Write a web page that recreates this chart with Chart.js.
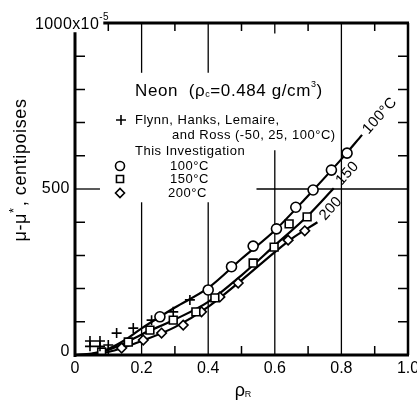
<!DOCTYPE html>
<html>
<head>
<meta charset="utf-8">
<script src="https://cdn.jsdelivr.net/npm/chart.js@4.4.0/dist/chart.umd.min.js"></script>
<style>
  body { margin: 0; background: #fff; }
</style>
</head>
<body>
<canvas id="neonChart" width="417" height="402"></canvas>
<script>
// Flynn, Hanks, Lemaire and Ross (+)
const flynnRho = [0.045, 0.075, 0.045, 0.075, 0.1, 0.125, 0.175, 0.23, 0.295, 0.345]
const flynnVisc = [42, 42, 26, 26, 30, 66, 81, 105, 130, 166]

// This investigation
const rho100 = [0.255, 0.40, 0.47, 0.535, 0.605, 0.663, 0.715, 0.77, 0.817]
const visc100 = [115, 196, 266, 328, 380, 445, 497, 557, 608]
const rho150 = [0.08, 0.16, 0.225, 0.295, 0.363, 0.42, 0.535, 0.598, 0.643, 0.697]
const visc150 = [9, 39, 75, 105, 130, 172, 277, 325, 395, 416]
const rho200 = [0.14, 0.205, 0.26, 0.325, 0.38, 0.435, 0.49, 0.64, 0.69]
const visc200 = [21, 45, 66, 90, 130, 175, 217, 346, 374]

// smooth curves drawn through the points
const curveRho100 = [0, 0.05, 0.1, 0.15, 0.2, 0.25, 0.3, 0.4, 0.5, 0.6, 0.7, 0.8, 0.862]
const curveVisc100 = [0, 4, 18, 45, 80, 112, 143, 202, 290, 375, 480, 590, 663]
const curveRho150 = [0, 0.05, 0.1, 0.15, 0.2, 0.3, 0.4, 0.5, 0.6, 0.7, 0.777]
const curveVisc150 = [0, 3, 15, 36, 62, 107, 160, 240, 330, 420, 502]
const curveRho200 = [0.05, 0.1, 0.15, 0.2, 0.3, 0.4, 0.5, 0.6, 0.65, 0.728]
const curveVisc200 = [2, 9, 24, 42, 84, 145, 225, 310, 350, 400]

const xTicks = [0, 0.2, 0.4, 0.6, 0.8, 1.0]
const yTickLabels = [0, 500]

const FONT = "'Liberation Sans', Arial, sans-serif"
const INK = "#000"

const toXY = (xs, ys) => xs.map((x, i) => ({ x: x, y: ys[i] }))

function drawRich(ctx, parts, x, y, align, spacing) {
  ctx.letterSpacing = (spacing || 0) + "px"
  let total = 0
  parts.forEach(p => {
    ctx.font = p.size + "px " + FONT
    p.w = ctx.measureText(p.t).width + (p.gap || 0)
    total += p.w
  })
  let cx = align === "center" ? x - total / 2 : align === "right" ? x - total : x
  parts.forEach(p => {
    ctx.font = p.size + "px " + FONT
    ctx.textAlign = "left"
    ctx.textBaseline = "middle"
    ctx.fillText(p.t, cx, y + (p.dy || 0))
    cx += p.w
  })
  ctx.letterSpacing = "0px"
}

const framePlugin = {
  id: "frame",
  beforeDatasetsDraw(chart) {
    const ctx = chart.ctx
    const xs = chart.scales.x
    const ys = chart.scales.y
    // broken grid lines (gaps left for the key)
    const segments = [
      [0.2, 1000, 0.2, 850], [0.2, 460, 0.2, 0],
      [0.4, 1000, 0.4, 850], [0.4, 460, 0.4, 0],
      [0.6, 1000, 0.6, 968], [0.6, 617, 0.6, 0],
      [0.8, 1000, 0.8, 0],
      [0, 500, 0.075, 500], [0.545, 500, 1, 500]
    ]
    ctx.save()
    ctx.strokeStyle = INK
    ctx.lineWidth = 1.3
    segments.forEach(s => {
      ctx.beginPath()
      ctx.moveTo(xs.getPixelForValue(s[0]), ys.getPixelForValue(s[1]))
      ctx.lineTo(xs.getPixelForValue(s[2]), ys.getPixelForValue(s[3]))
      ctx.stroke()
    })
    ctx.restore()
  },
  afterDatasetsDraw(chart) {
    const ctx = chart.ctx
    const xs = chart.scales.x
    const ys = chart.scales.y
    const X = v => xs.getPixelForValue(v)
    const Y = v => ys.getPixelForValue(v)
    ctx.save()
    ctx.strokeStyle = INK
    ctx.fillStyle = INK
    ctx.lineCap = "butt"

    // frame
    ctx.lineWidth = 3
    ctx.beginPath()
    ctx.moveTo(X(0), Y(972))
    ctx.lineTo(X(0), Y(0) + 2)
    ctx.moveTo(X(0) - 1, Y(0))
    ctx.lineTo(X(1) + 1, Y(0))
    ctx.moveTo(X(0.085), Y(1000))
    ctx.lineTo(X(1) + 1, Y(1000))
    ctx.stroke()
    ctx.lineWidth = 2.5
    ctx.beginPath()
    ctx.moveTo(X(1), Y(1000))
    ctx.lineTo(X(1), Y(0))
    ctx.stroke()

    // inside ticks
    ctx.lineWidth = 1.5
    ctx.beginPath()
    for (let v = 100; v < 1000; v += 100) {
      if (v === 500) continue
      ctx.moveTo(X(0), Y(v))
      ctx.lineTo(X(0) + 10, Y(v))
      ctx.moveTo(X(1), Y(v))
      ctx.lineTo(X(1) - 10, Y(v))
    }
    for (let t = 1; t < 10; t += 2) {
      ctx.moveTo(X(t / 10), Y(1000))
      ctx.lineTo(X(t / 10), Y(1000) + 8)
      ctx.moveTo(X(t / 10), Y(0))
      ctx.lineTo(X(t / 10), Y(0) - 9)
    }
    ctx.stroke()

    // y tick labels
    yTickLabels.forEach(v => {
      drawRich(ctx, [{ t: String(v), size: 16 }], X(0) - 5, Y(v) - (v === 0 ? 3 : 0), "right", 0.5)
    })
    drawRich(ctx, [{ t: "1000x10", size: 16 }, { t: "-5", size: 10, dy: -8 }], 35, Y(1000) + 2, "left", 0.4)

    // axis titles
    ctx.save()
    ctx.translate(21, 170)
    ctx.rotate(-Math.PI / 2)
    drawRich(ctx, [
      { t: "\u03bc-\u03bc", size: 18 },
      { t: "*", size: 13, dy: -7, gap: 1 },
      { t: ", centipoises", size: 18 }
    ], 0, 0, "center", 0.6)
    ctx.restore()
    drawRich(ctx, [{ t: "\u03c1", size: 18 }, { t: "R", size: 9, dy: 4 }], 243, 391, "center")

    // key
    drawRich(ctx, [
      { t: "Neon  (\u03c1", size: 17 },
      { t: "c", size: 9, dy: 4 },
      { t: "=0.484 g/cm", size: 17 },
      { t: "3", size: 9, dy: -6 },
      { t: ")", size: 17 }
    ], 135, 91, "left", 0.6)
    const keyFont = 13
    const sp = 0.5
    drawRich(ctx, [{ t: "Flynn, Hanks, Lemaire,", size: keyFont }], 135, 120, "left", sp)
    drawRich(ctx, [{ t: "and Ross (-50, 25, 100\u00b0C)", size: keyFont }], 172, 135, "left", sp)
    drawRich(ctx, [{ t: "This Investigation", size: keyFont }], 135, 151, "left", sp)
    drawRich(ctx, [{ t: "100\u00b0C", size: keyFont }], 170, 166, "left", sp)
    drawRich(ctx, [{ t: "150\u00b0C", size: keyFont }], 170, 179, "left", sp)
    drawRich(ctx, [{ t: "200\u00b0C", size: keyFont }], 168, 193, "left", sp)

    ctx.fillStyle = "#fff"
    ctx.lineWidth = 1.6
    const sym = (style, r, x, y) => Chart.helpers.drawPoint(ctx, { pointStyle: style, radius: r, rotation: 0, borderWidth: 1.6 }, x, y)
    sym("cross", 5, 121, 120)
    sym("circle", 4.5, 120, 166)
    sym("rect", 5, 120, 179)
    sym("rectRot", 4.5, 120, 193)

    // curve labels
    ctx.fillStyle = INK
    const curveLabel = (txt, x, y) => {
      ctx.save()
      ctx.translate(x, y)
      ctx.rotate(-48 * Math.PI / 180)
      drawRich(ctx, [{ t: txt, size: 15 }], 0, 0, "left", 0.3)
      ctx.restore()
    }
    curveLabel("100\u00b0C", X(0.872), Y(672))
    curveLabel("150", X(0.792), Y(518))
    curveLabel("200", X(0.742), Y(412))

    ctx.restore()
  }
}

const markerStyle = {
  showLine: false,
  backgroundColor: "#fff",
  borderColor: INK,
  borderWidth: 1.6,
  pointBackgroundColor: "#fff",
  pointBorderColor: INK,
  pointBorderWidth: 1.6
}
const curveStyle = {
  showLine: true,
  borderColor: INK,
  borderWidth: 2.2,
  pointRadius: 0,
  cubicInterpolationMode: "monotone",
  fill: false
}

const data = {
  datasets: [
    Object.assign({ label: "Flynn", data: toXY(flynnRho, flynnVisc), pointStyle: "cross", pointRadius: 5 }, markerStyle),
    Object.assign({ label: "100 C", data: toXY(rho100, visc100), pointStyle: "circle", pointRadius: 5 }, markerStyle),
    Object.assign({ label: "150 C", data: toXY(rho150, visc150), pointStyle: "rect", pointRadius: 5.5 }, markerStyle),
    Object.assign({ label: "200 C", data: toXY(rho200, visc200), pointStyle: "rectRot", pointRadius: 4.8 }, markerStyle),
    Object.assign({ label: "curve 100", data: toXY(curveRho100, curveVisc100) }, curveStyle),
    Object.assign({ label: "curve 150", data: toXY(curveRho150, curveVisc150) }, curveStyle),
    Object.assign({ label: "curve 200", data: toXY(curveRho200, curveVisc200) }, curveStyle)
  ]
}

const config = {
  type: "scatter",
  data: data,
  options: {
    responsive: false,
    animation: false,
    layout: {
      padding: { left: 0, right: 9, top: 23, bottom: 0 }
    },
    scales: {
      x: {
        type: "linear",
        min: 0,
        max: 1,
        grid: { display: false, drawTicks: false },
        border: { display: false },
        afterBuildTicks: scale => {
          scale.ticks = xTicks.map(v => ({ value: v }))
        },
        ticks: {
          autoSkip: false,
          maxRotation: 0,
          color: INK,
          padding: 4,
          font: { size: 16, family: FONT },
          callback: v => (v === 0 ? "0" : v.toFixed(1))
        },
        afterFit: scale => {
          scale.height = 47
          scale.paddingLeft = 0
          scale.paddingRight = 0
        }
      },
      y: {
        min: 0,
        max: 1000,
        grid: { display: false },
        border: { display: false },
        ticks: { display: false },
        afterFit: scale => {
          scale.width = 75
        }
      }
    },
    plugins: {
      legend: { display: false },
      tooltip: { enabled: false }
    }
  },
  plugins: [framePlugin]
}

new Chart(document.getElementById("neonChart"), config)
</script>
</body>
</html>
